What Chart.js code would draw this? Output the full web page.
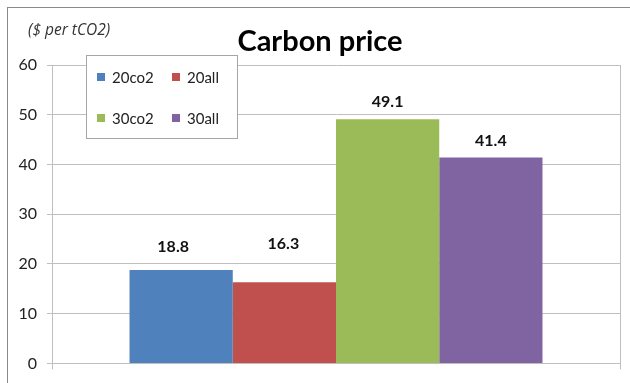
<!DOCTYPE html>
<html>
<head>
<meta charset="utf-8">
<script src="https://cdn.jsdelivr.net/npm/chart.js@4.4.1/dist/chart.umd.min.js"></script>
<style>
  html, body { margin: 0; padding: 0; background: #fff; }
  #wrap { position: relative; width: 630px; height: 383px; overflow: hidden; }
  #frame { position: absolute; left: 7px; top: 7px; width: 640px; height: 400px;
           border-left: 1px solid #8a8a8a; border-top: 1px solid #8a8a8a; pointer-events: none; }
  canvas { position: absolute; left: 0; top: 0; }
</style>
</head>
<body>
<div id="wrap">
  <canvas id="c" width="630" height="383"></canvas>
  <div id="frame"></div>
</div>
<script>
// Scenario names, carbon prices ($ per tCO2) and bar colours
const scenarios = ['20co2', '20all', '30co2', '30all'];
const prices = [18.8, 16.3, 49.1, 41.4];
const barColors = ['#4F81BD', '#C0504D', '#9BBB59', '#8064A2'];
const yTicks = [0, 10, 20, 30, 40, 50, 60];

const FONT = 'Lato, "Open Sans", "DejaVu Sans", sans-serif';

// Value labels drawn above each bar (lift / shift in pixels per series)
const valueLabels = {
  id: 'valueLabels',
  afterDatasetsDraw(chart, args, opts) {
    const ctx = chart.ctx;
    ctx.save();
    ctx.font = 'bold 16px ' + FONT;
    ctx.fillStyle = '#111';
    ctx.textAlign = 'center';
    ctx.textBaseline = 'middle';
    chart.data.datasets.forEach((ds, i) => {
      const bar = chart.getDatasetMeta(i).data[0];
      const v = ds.data[0];
      ctx.fillText(v.toFixed(1), bar.x + (opts.shift[i] || 0), bar.y - opts.lift[i]);
    });
    ctx.restore();
  }
};

// Boxed 2x2 legend and the unit caption
const boxLegend = {
  id: 'boxLegend',
  afterDraw(chart, args, opts) {
    const ctx = chart.ctx;
    ctx.save();
    ctx.fillStyle = '#fff';
    ctx.fillRect(opts.x, opts.y, opts.w, opts.h);
    ctx.strokeStyle = '#a6a6a6';
    ctx.lineWidth = 1;
    ctx.strokeRect(opts.x + 0.5, opts.y + 0.5, opts.w, opts.h);
    ctx.font = '15px ' + FONT;
    ctx.textBaseline = 'middle';
    ctx.textAlign = 'left';
    chart.data.datasets.forEach((ds, i) => {
      const col = i % 2, row = Math.floor(i / 2);
      const sx = opts.x + opts.colX[col];
      const sy = opts.y + opts.rowY[row];
      ctx.fillStyle = ds.backgroundColor;
      ctx.fillRect(sx, sy - 4, 8, 8);
      ctx.fillStyle = '#222';
      ctx.fillText(ds.label, sx + 15, sy + 1);
    });
    // unit caption
    ctx.font = 'italic 15.5px "Open Sans", Lato, sans-serif';
    ctx.fillStyle = '#333';
    ctx.fillText('($ per tCO2)', 28, 31);
    ctx.restore();
  }
};

const datasets = scenarios.map((name, i) => ({
  label: name,
  data: [prices[i]],
  backgroundColor: barColors[i],
  borderWidth: 0,
  barPercentage: 1.0,
  categoryPercentage: 0.727
}));

new Chart(document.getElementById('c'), {
  type: 'bar',
  data: { labels: [''], datasets },
  plugins: [valueLabels, boxLegend],
  options: {
    responsive: false,
    animation: false,
    layout: { padding: { top: 0, left: 10, right: 0, bottom: 0 } },
    plugins: {
      legend: { display: false },
      tooltip: { enabled: false },
      title: {
        display: true,
        text: 'Carbon price',
        color: '#000',
        font: { family: FONT, size: 29, weight: 'bold', lineHeight: 1.2 },
        padding: { top: 24.6, bottom: 5.6 }
      },
      valueLabels: { lift: [23, 38, 17.5, 17], shift: [-8, -1, 0, 0] },
      boxLegend: { x: 86, y: 55, w: 151, h: 83, colX: [11, 86], rowY: [22, 63] }
    },
    scales: {
      x: {
        offset: true,
        grid: { display: true, offset: true, drawOnChartArea: true, drawTicks: true,
                tickLength: 6, color: '#bfbfbf' },
        border: { display: true, color: '#bfbfbf' },
        ticks: { display: false },
        afterFit(s) { s.height = 18; }
      },
      y: {
        min: 0, max: 60,
        afterBuildTicks(s) { s.ticks = yTicks.map(v => ({ value: v })); },
        grid: { color: '#bfbfbf', tickLength: 5, drawTicks: true },
        border: { display: true, color: '#bfbfbf' },
        ticks: { color: '#222', padding: 10, font: { family: FONT, size: 16 } },
        afterFit(s) { s.width = 42; }
      },
      // empty right-hand margin so the plot ends short of the edge
      yRight: {
        position: 'right',
        display: true,
        grid: { display: false },
        border: { display: false },
        ticks: { display: false },
        afterFit(s) { s.width = 10; }
      }
    }
  }
});
</script>
</body>
</html>
